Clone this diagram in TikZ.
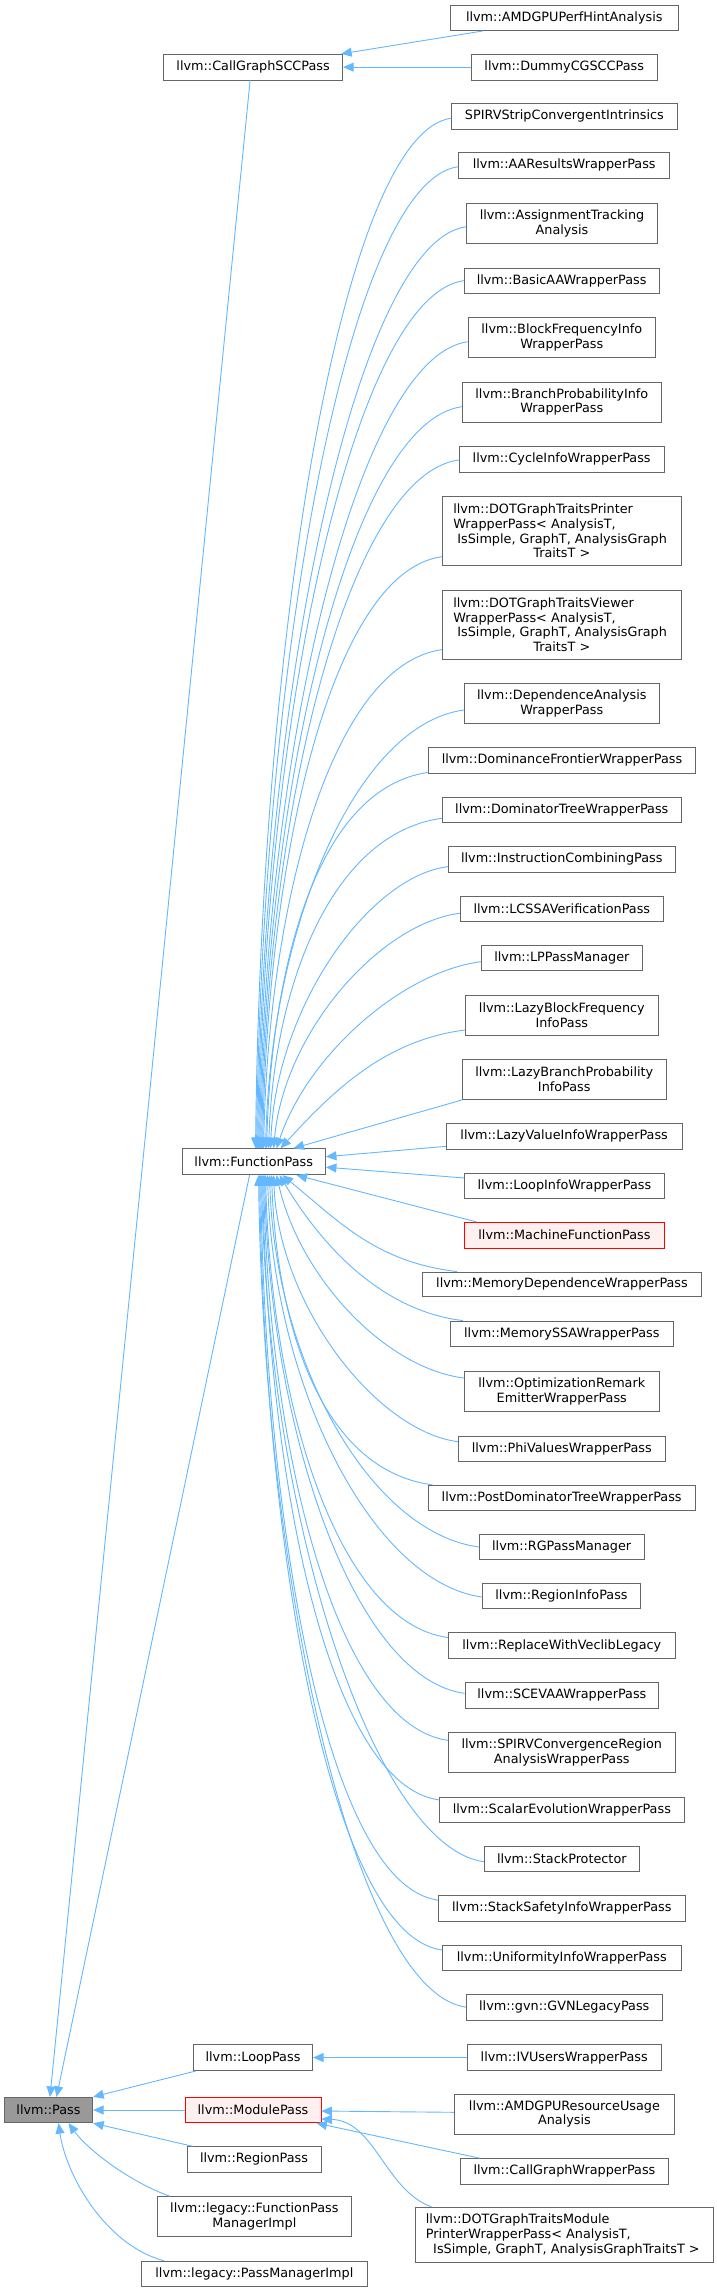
\documentclass[tikz,border=0pt]{standalone}
\usepackage{fontspec}
\setmainfont{DejaVu Sans}
\usetikzlibrary{arrows.meta,calc}
\definecolor{eblue}{HTML}{63B8FF}
\definecolor{boxgray}{HTML}{666666}
\definecolor{passfill}{HTML}{999999}
\definecolor{redfill}{HTML}{FFF0F0}
\newcommand\Lline[2]{\hbox to #1{#2\hfil}}
\newcommand\Cline[2]{\hbox to #1{\hfil#2\hfil}}
% \bx[style]{name}{x1}{y1}{x2}{y2}{text}
\newcommand\bx[7][box]{\node[#1, minimum width={(#5-#3)*1pt}, minimum height={(#6-#4)*1pt}] (#2) at ({(#3+#5)/2},{(#4+#6)/2}) {#7};}
\begin{document}
\begin{tikzpicture}[x=1pt,y=-1pt,
 boxbase/.style={draw=boxgray, fill=white, line width=0.9pt, inner sep=0pt, font=\fontsize{12.8}{14.67}\selectfont},
 box/.style={boxbase, align=center},
 redbox/.style={box, draw=red, fill=redfill},
 passbox/.style={box, fill=passfill},
 inh/.style={draw=eblue, line width=0.9pt, {Triangle[length=10.5pt,width=9pt]}-}]
\fill[white] (0,0) rectangle (716,2292);
\useasboundingbox (0,0) rectangle (716,2292);

% ---- nodes ----
\bx{amdperf}{450.5}{5}{678}{30.5}{llvm::AMDGPUPerfHintAnalysis}
\bx{cgscc}{163.5}{54.3}{342.7}{80}{llvm::CallGraphSCCPass}
\bx{dummy}{471}{54.3}{657.4}{80}{llvm::DummyCGSCCPass}
\bx{spirvstrip}{451.8}{103.3}{677}{129}{SPIRVStripConvergentIntrinsics}
\bx{aares}{458.7}{152.7}{669.7}{178}{llvm::AAResultsWrapperPass}
\bx{assign}{466.7}{203.3}{657.3}{243.3}{llvm::AssignmentTracking\\Analysis}
\bx{basicaa}{464.3}{268}{659}{293.3}{llvm::BasicAAWrapperPass}
\bx{blockfreq}{468.3}{317.7}{655.3}{357.7}{llvm::BlockFrequencyInfo\\WrapperPass}
\bx{branchprob}{462.3}{382}{661.3}{422}{llvm::BranchProbabilityInfo\\WrapperPass}
\bx{cycle}{459.3}{446.7}{664}{472}{llvm::CycleInfoWrapperPass}
\bx[boxbase]{dotprinter}{442.3}{496.7}{681.3}{565.7}{\vbox{\Lline{217pt}{llvm::DOTGraphTraitsPrinter}\Lline{217pt}{WrapperPass< AnalysisT,}\Lline{217pt}{\ IsSimple, GraphT, AnalysisGraph}\Cline{217pt}{TraitsT >}}}
\bx[boxbase]{dotviewer}{442.3}{590}{681.3}{659.3}{\vbox{\Lline{217pt}{llvm::DOTGraphTraitsViewer}\Lline{217pt}{WrapperPass< AnalysisT,}\Lline{217pt}{\ IsSimple, GraphT, AnalysisGraph}\Cline{217pt}{TraitsT >}}}
\bx{depend}{464.3}{683.3}{659.3}{723.3}{llvm::DependenceAnalysis\\WrapperPass}
\bx{domfront}{428.7}{747.7}{695.3}{773}{llvm::DominanceFrontierWrapperPass}
\bx{domtree}{442.3}{797}{681.3}{822.3}{llvm::DominatorTreeWrapperPass}
\bx{instcomb}{448.3}{846.7}{675.3}{872}{llvm::InstructionCombiningPass}
\bx{lcssa}{460.3}{896}{663.3}{921.3}{llvm::LCSSAVerificationPass}
\bx{lppm}{481.7}{945}{642}{970.3}{llvm::LPPassManager}
\bx{lazyblock}{465.7}{995.3}{658}{1035}{llvm::LazyBlockFrequency\\InfoPass}
\bx{lazybranch}{462}{1059.3}{666.5}{1099.3}{llvm::LazyBranchProbability\\InfoPass}
\bx{lazyvalue}{446.3}{1123.7}{682}{1149}{llvm::LazyValueInfoWrapperPass}
\bx{fp}{182}{1148.7}{325.5}{1174.7}{llvm::FunctionPass}
\bx{loopinfo}{464.7}{1173}{664.2}{1198.3}{llvm::LoopInfoWrapperPass}
\bx[redbox]{mfp}{464.7}{1222.3}{664.2}{1248}{llvm::MachineFunctionPass}
\bx{memdep}{422.3}{1272}{701.7}{1296.7}{llvm::MemoryDependenceWrapperPass}
\bx{memssa}{450.3}{1321}{673.3}{1346.3}{llvm::MemorySSAWrapperPass}
\bx{optrem}{464.3}{1371.3}{659.3}{1411.3}{llvm::OptimizationRemark\\EmitterWrapperPass}
\bx{phi}{458.3}{1436}{665.3}{1461.3}{llvm::PhiValuesWrapperPass}
\bx{postdom}{428}{1485.3}{695.3}{1510.3}{llvm::PostDominatorTreeWrapperPass}
\bx{rgpm}{479.3}{1534.3}{644}{1559.7}{llvm::RGPassManager}
\bx{reginfo}{482.3}{1583.3}{640.7}{1608.7}{llvm::RegionInfoPass}
\bx{replace}{448.3}{1632.7}{675.3}{1658.3}{llvm::ReplaceWithVeclibLegacy}
\bx{scevaa}{465}{1682.7}{658.7}{1708}{llvm::SCEVAAWrapperPass}
\bx{spirvconv}{448.3}{1732.3}{675.3}{1772.3}{llvm::SPIRVConvergenceRegion\\AnalysisWrapperPass}
\bx{scalarev}{439.7}{1797}{684}{1822.3}{llvm::ScalarEvolutionWrapperPass}
\bx{stackprot}{484.3}{1846.7}{639.3}{1871.7}{llvm::StackProtector}
\bx{stacksafe}{438.3}{1895.7}{685.3}{1921}{llvm::StackSafetyInfoWrapperPass}
\bx{uniform}{442.3}{1945}{681.3}{1970.3}{llvm::UniformityInfoWrapperPass}
\bx{gvn}{466.5}{1994.3}{662}{2020}{llvm::gvn::GVNLegacyPass}
\bx{looppass}{193.3}{2044.5}{312.7}{2070.5}{llvm::LoopPass}
\bx{ivusers}{467}{2044.5}{661.5}{2070.5}{llvm::IVUsersWrapperPass}
\bx[passbox]{pass}{4.3}{2097.3}{92.7}{2122.7}{llvm::Pass}
\bx[redbox]{modulepass}{185}{2097.3}{321}{2122.7}{llvm::ModulePass}
\bx{amdres}{454.6}{2094}{674.3}{2134}{llvm::AMDGPUResourceUsage\\Analysis}
\bx{regionpass}{187}{2146.7}{321}{2172}{llvm::RegionPass}
\bx{cgwrap}{460.6}{2158.7}{668.3}{2184}{llvm::CallGraphWrapperPass}
\bx{fpmimpl}{157.3}{2196.7}{351.4}{2236.7}{llvm::legacy::FunctionPass\\ManagerImpl}
\bx[boxbase]{dotmodule}{415}{2207.3}{713.8}{2262.7}{\vbox{\Lline{277pt}{llvm::DOTGraphTraitsModule}\Lline{277pt}{PrinterWrapperPass< AnalysisT,}\Cline{277pt}{\ IsSimple, GraphT, AnalysisGraphTraitsT >}}}
\bx{pmimpl}{141.7}{2261.3}{367}{2286.7}{llvm::legacy::PassManagerImpl}

% ---- CallGraphSCCPass children ----
\draw[inh] ($(cgscc.north east)+(-2,0)$) -- ($(amdperf.south west)+(33,0)$);
\draw[inh] (cgscc.east) -- (dummy.west);

% ---- FunctionPass children above ----
\draw[inh] ($(fp.north west)+(74,0)$) .. controls (261,633.6) and (341.8,133.3) .. ($(spirvstrip.west)+(0,2)$);
\draw[inh] ($(fp.north west)+(75,0)$) .. controls (262,657.8) and (348.7,181.7) .. ($(aares.west)+(0,1.3)$);
\draw[inh] ($(fp.north west)+(76,0)$) .. controls (263,687.8) and (356.7,241.7) .. ($(assign.west)+(0,3.4)$);
\draw[inh] ($(fp.north west)+(77,0)$) .. controls (264,714.8) and (354.3,295.7) .. (basicaa.west);
\draw[inh] ($(fp.north west)+(78,0)$) .. controls (265,745.3) and (358.3,356.7) .. ($(blockfreq.west)+(0,4)$);
\draw[inh] ($(fp.north west)+(79,0)$) .. controls (266,778) and (352.3,421.7) .. ($(branchprob.west)+(0,4.7)$);
\draw[inh] ($(fp.north west)+(80,0)$) .. controls (267,804.5) and (349.3,475) .. ($(cycle.west)+(0,0.6)$);
\draw[inh] ($(fp.north west)+(81,0)$) .. controls (268,852.8) and (332.3,571.7) .. ($(dotprinter.west)+(0,25.5)$);
\draw[inh] ($(fp.north west)+(82,0)$) .. controls (269,899.5) and (332.3,665) .. ($(dotviewer.west)+(0,25)$);
\draw[inh] ($(fp.north west)+(84,0)$) .. controls (271,929.5) and (354.3,725) .. ($(depend.west)+(0,6.7)$);
\draw[inh] ($(fp.north west)+(85,0)$) .. controls (272,961) and (318.7,788) .. ($(domfront.west)+(0,12)$);
\draw[inh] ($(fp.north west)+(87,0)$) .. controls (274,983.7) and (332.3,833.3) .. ($(domtree.west)+(0,8.6)$);
\draw[inh] ($(fp.north west)+(89,0)$) .. controls (276,1007.8) and (368.3,876.7) .. ($(instcomb.west)+(0,7.3)$);
\draw[inh] ($(fp.north west)+(92,0)$) .. controls (284.4,1031.2) and (380.3,923.3) .. ($(lcssa.west)+(0,4.6)$);
\draw[inh] ($(fp.north west)+(95,0)$) .. controls (307.6,1055.4) and (401.7,971.7) .. ($(lppm.west)+(0,4)$);
\draw[inh] ($(fp.north west)+(99,0)$) .. controls (334.4,1089.5) and (385.7,1040) .. ($(lazyblock.west)+(0,14.8)$);
\draw[inh] ($(fp.north west)+(112,0)$) -- ($(lazybranch.south west)+(1,0)$);
\draw[inh] ($(fp.east)+(0,-5)$) -- ($(lazyvalue.west)+(0,10)$);
\draw[inh] ($(fp.east)+(0,5.5)$) -- ($(loopinfo.west)+(0,-7.7)$);
\draw[inh] ($(fp.south west)+(115,0)$) -- ($(mfp.north west)+(12,0)$);

% ---- FunctionPass children below ----
\draw[inh] ($(fp.south west)+(101,0)$) .. controls (341,1223.4) and (377,1262) .. ($(memdep.north west)+(35,0)$);
\draw[inh] ($(fp.south west)+(98,0)$) .. controls (322.9,1247.9) and (383,1311) .. ($(memssa.north west)+(13,0)$);
\draw[inh] ($(fp.south west)+(95,0)$) .. controls (299.5,1276.4) and (384.3,1368) .. ($(optrem.west)+(0,-13.3)$);
\draw[inh] ($(fp.south west)+(92,0)$) .. controls (279,1308.2) and (378.3,1431.7) .. ($(phi.west)+(0,-7)$);
\draw[inh] ($(fp.south west)+(90,0)$) .. controls (277,1330) and (323,1470.3) .. ($(postdom.north west)+(5,0)$);
\draw[inh] ($(fp.south west)+(88,0)$) .. controls (275,1360.9) and (369.3,1532) .. (rgpm.west);
\draw[inh] ($(fp.south west)+(86,0)$) .. controls (273,1385.9) and (372.3,1582) .. ($(reginfo.west)+(0,1)$);
\draw[inh] ($(fp.south west)+(84,0)$) .. controls (271,1406.2) and (338.3,1622.7) .. ($(replace.west)+(0,-8)$);
\draw[inh] ($(fp.south west)+(83,0)$) .. controls (270,1434) and (355,1678.3) .. ($(scevaa.west)+(0,-2)$);
\draw[inh] ($(fp.south west)+(82,0)$) .. controls (269,1457.5) and (338.3,1725.3) .. ($(spirvconv.west)+(0,-12)$);
\draw[inh] ($(fp.south west)+(81,0)$) .. controls (268,1487.4) and (329.7,1785) .. ($(scalarev.west)+(0,-9.7)$);
\draw[inh] ($(fp.south west)+(80,0)$) .. controls (267,1518.2) and (374.3,1846.7) .. ($(stackprot.west)+(0,2.5)$);
\draw[inh] ($(fp.south west)+(79,0)$) .. controls (266,1537.4) and (328.3,1885) .. ($(stacksafe.west)+(0,-8.3)$);
\draw[inh] ($(fp.south west)+(78,0)$) .. controls (265,1562.4) and (332.3,1935) .. ($(uniform.west)+(0,-7.7)$);
\draw[inh] ($(fp.south west)+(77,0)$) .. controls (264,1591) and (356.5,1992.2) .. (gvn.west);

% ---- Pass children ----
\draw[inh] ($(pass.north)+(1.5,0)$) -- ($(cgscc.south)+(-3,0)$);
\draw[inh] ($(pass.north)+(8,0)$) -- ($(fp.south west)+(68,0)$);
\draw[inh] (pass.north east) -- ($(looppass.south west)+(3,0)$);
\draw[inh] (pass.east) -- (modulepass.west);
\draw[inh] (pass.south east) -- ($(regionpass.north west)+(6,0)$);
\draw[inh] ($(pass.south)+(20,0)$) .. controls (88,2150) and (130,2182) .. ($(fpmimpl.north west)+(13,0)$);
\draw[inh] ($(pass.south)+(10,0)$) .. controls (66,2175) and (105,2245) .. ($(pmimpl.north west)+(23,0)$);

% ---- LoopPass / ModulePass children ----
\draw[inh] (looppass.east) -- (ivusers.west);
\draw[inh] ($(modulepass.east)+(0,1)$) -- ($(amdres.west)+(0,-1.7)$);
\draw[inh] ($(modulepass.south east)+(-5,0)$) -- ($(cgwrap.north west)+(20,0)$);
\draw[inh] ($(modulepass.east)+(0,9)$) .. controls (375,2121) and (385,2190) .. ($(dotmodule.north west)+(17,0)$);
\end{tikzpicture}
\end{document}
